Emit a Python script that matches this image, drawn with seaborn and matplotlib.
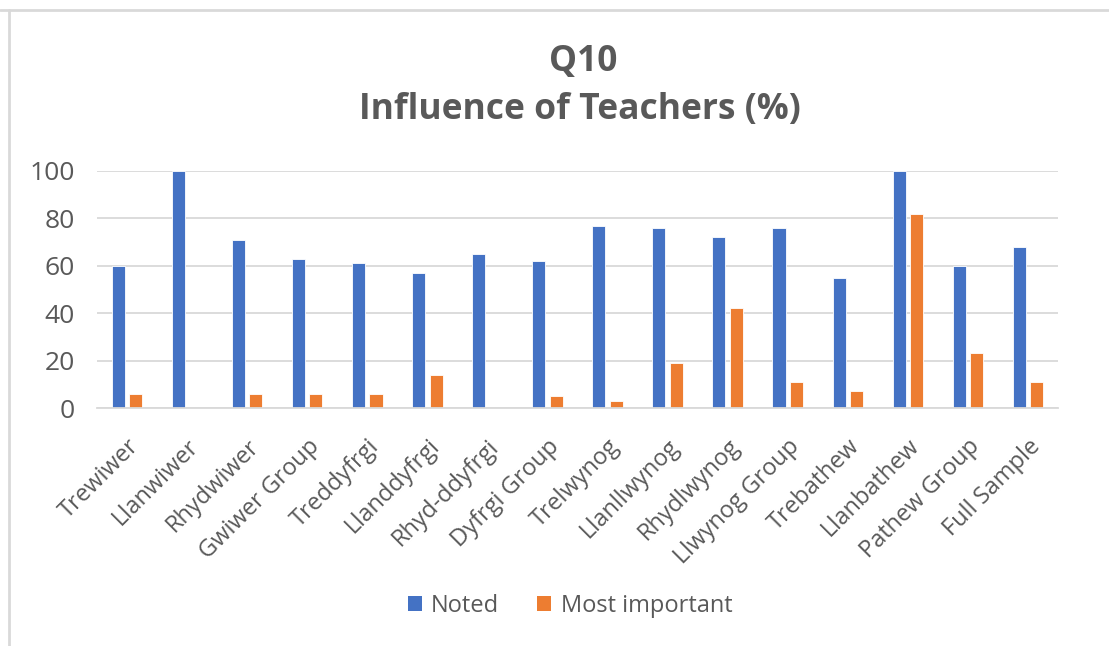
import matplotlib
matplotlib.use("Agg")
import matplotlib.pyplot as plt
import seaborn as sns
import pandas as pd
from matplotlib.lines import Line2D
from matplotlib.patches import Patch

categories = ["Trewiwer", "Llanwiwer", "Rhydwiwer", "Gwiwer Group", "Treddyfrgi",
              "Llanddyfrgi", "Rhyd-ddyfrgi", "Dyfrgi Group", "Trelwynog", "Llanllwynog",
              "Rhydlwynog", "Llwynog Group", "Trebathew", "Llanbathew", "Pathew Group",
              "Full Sample"]
noted = [60, 100, 71, 63, 61, 57, 65, 62, 77, 76, 72, 76, 55, 100, 60, 68]
most_important = [6, 0, 6, 6, 6, 14, 0, 5, 3, 19, 42, 11, 7, 82, 23, 11]
series_names = ["Noted", "Most important"]
yticks = [0, 20, 40, 60, 80, 100]

df = pd.DataFrame({
    "category": categories * 2,
    "series": [series_names[0]] * len(categories) + [series_names[1]] * len(categories),
    "value": noted + most_important,
})

sns.set_theme(style="white")
plt.rcParams["font.family"] = ["Open Sans", "DejaVu Sans"]

colors = {"Noted": "#4472C4", "Most important": "#ED7D31"}
text_color = "#595959"

fig = plt.figure(figsize=(11.09, 6.46), dpi=100)
ax = fig.add_axes([97 / 1109, 1 - 408 / 646, (1058 - 97) / 1109, (408 - 171) / 646])

sns.barplot(data=df, x="category", y="value", hue="series", palette=colors,
            width=0.58, gap=0.25, ax=ax, legend=False, saturation=1,
            edgecolor="white", linewidth=0.6)

ax.set_ylim(0, 100)
ax.set_xlim(-0.5, len(categories) - 0.5)
ax.set_yticks(yticks)
ax.set_yticklabels([str(v) for v in yticks], fontsize=19, color=text_color)
ax.yaxis.grid(True, color="#D9D9D9", linewidth=1.3)
ax.set_axisbelow(True)
for s in ["top", "right", "left"]:
    ax.spines[s].set_visible(False)
ax.spines["bottom"].set_color("#D9D9D9")
ax.spines["bottom"].set_linewidth(1.3)
ax.tick_params(axis="both", length=0)
ax.tick_params(axis="y", pad=16)
ax.tick_params(axis="x", pad=19)
ax.set_xticks(range(len(categories)))
ax.set_xticklabels(categories, rotation=45, ha="right", rotation_mode="anchor",
                   fontsize=17, color=text_color)
ax.set_xlabel("")
ax.set_ylabel("")

fig.text(583 / 1109, 1 - 62 / 646, "Q10", ha="center", va="center",
         fontsize=25.5, fontweight="bold", color=text_color)
fig.text(580 / 1109, 1 - 110 / 646, "Influence of Teachers (%)", ha="center", va="center",
         fontsize=25.5, fontweight="bold", color=text_color)

handles = [Patch(facecolor=colors[n], edgecolor="none", label=n) for n in series_names]
fig.legend(handles=handles, loc="center", bbox_to_anchor=(570 / 1109, 1 - 606 / 646),
           ncol=2, frameon=False, fontsize=17, handlelength=0.6, handleheight=0.6,
           handletextpad=0.4, columnspacing=1.6, labelcolor=text_color)

# chart border (top and left visible)
fig.add_artist(Line2D([0, 1], [1 - 10 / 646, 1 - 10 / 646], transform=fig.transFigure,
                      color="#D9D9D9", linewidth=2))
fig.add_artist(Line2D([9 / 1109, 9 / 1109], [0, 1 - 10 / 646], transform=fig.transFigure,
                      color="#D9D9D9", linewidth=2))

fig.savefig("out.png", dpi=100, facecolor="white")
